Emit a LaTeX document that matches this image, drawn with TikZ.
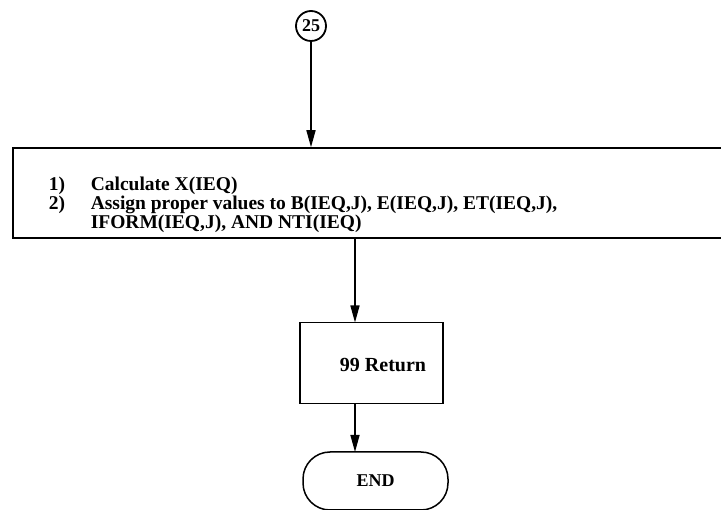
\documentclass[tikz,border=0pt]{standalone}
\usepackage{fontspec}
\setmainfont{Liberation Serif}
\usetikzlibrary{arrows.meta}
\begin{document}
\begin{tikzpicture}[x=1pt,y=1pt,
  line width=1.5pt,
  arr/.style={-{Triangle[length=17pt,width=9pt]}},
  txt/.style={font=\bfseries\fontsize{19.5}{22}\selectfont, inner sep=0pt, anchor=base west},
  procbox/.style={draw, rectangle, inner sep=0pt},
  connector/.style={draw, circle, line width=1.8pt, minimum size=30pt, inner sep=0pt, font=\bfseries\fontsize{18}{18}\selectfont},
  terminal/.style={draw, rectangle, rounded corners=27pt, inner sep=0pt, font=\bfseries\fontsize{18}{20}\selectfont}]
\useasboundingbox (0,0) rectangle (721,-510);
\clip (0,0) rectangle (721,-510);
% off-page connector
\node[connector] (c25) at (311,-26) {25};
% main processing block (runs past the right edge)
\node[procbox, minimum width=722pt, minimum height=90pt] (calc) at (374,-193) {};
\node[txt] (n1) at (48,-191) {1)};
\node[txt] (t1) at (90,-191) {Calculate X(IEQ)};
\node[txt] (n2) at (48,-210) {2)};
\node[txt] (t2) at (90,-210) {Assign proper values to B(IEQ,J), E(IEQ,J), ET(IEQ,J),};
\node[txt] (t3) at (90,-229) {IFORM(IEQ,J), AND NTI(IEQ)};
% return block
\node[procbox, minimum width=143pt, minimum height=81pt] (ret) at (371.5,-363) {};
\node[font=\bfseries\fontsize{20}{22}\selectfont, inner sep=0pt] (rett) at (383,-365) {99 Return};
% terminal
\node[terminal, minimum width=145pt, minimum height=58pt] (endt) at (375.5,-481) {END};
\coordinate (a1) at (355,-238);
\coordinate (a2) at (355,-322.5);
\coordinate (a3) at (355,-403.5);
\coordinate (a4) at (355,-452);
\draw[arr] (c25) -- (c25 |- calc.north);
\draw[arr] (a1) -- (a2);
\draw[arr] (a3) -- (a4);
\end{tikzpicture}
\end{document}
